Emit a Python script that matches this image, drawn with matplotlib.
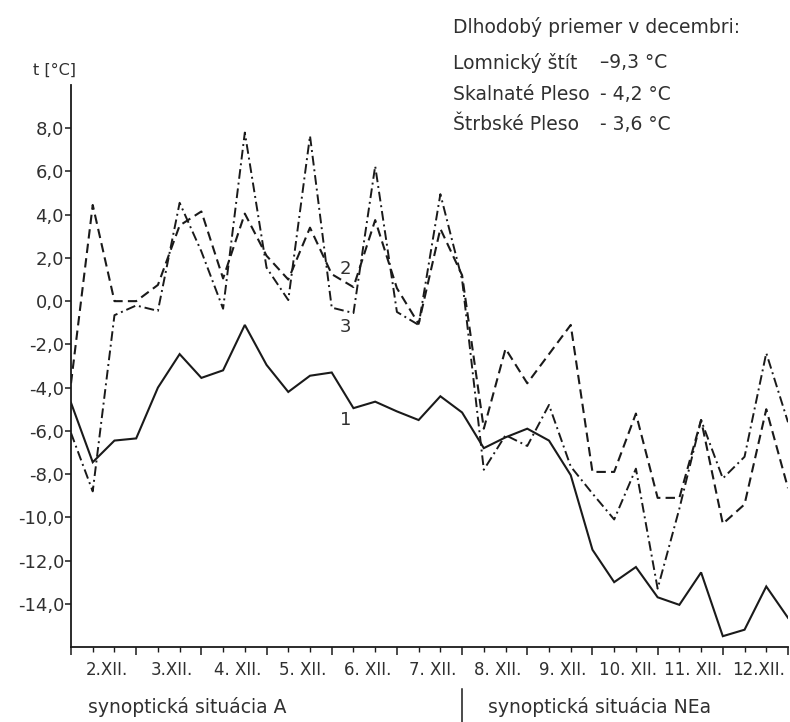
import matplotlib
matplotlib.use("Agg")
import matplotlib.pyplot as plt
from matplotlib.transforms import blended_transform_factory

plt.rcParams["font.family"] = ["DejaVu Sans"]
plt.rcParams["axes.unicode_minus"] = False

# Three observations a day (7, 14, 21 h), 1.-12. December
obs = list(range(34))

# 1 - Lomnický štít
lomnicky = [-4.7, -7.45, -6.45, -6.35, -4.0, -2.45, -3.55, -3.2, -1.1, -2.95,
            -4.2, -3.45, -3.3, -4.95, -4.65, -5.1, -5.5, -4.4, -5.15, -6.8,
            -6.3, -5.9, -6.45, -8.05, -11.5, -13.0, -12.3, -13.7, -14.05, -12.55,
            -15.5, -15.2, -13.2, -14.65]

# 2 - Skalnaté Pleso
skalnate = [-3.8, 4.45, 0.0, 0.0, 0.75, 3.5, 4.15, 1.05, 4.05, 2.1,
            1.0, 3.4, 1.25, 0.65, 3.75, 0.6, -1.05, 3.35, 1.2, -5.9,
            -2.2, -3.8, -2.45, -1.1, -7.9, -7.9, -5.2, -9.1, -9.1, -5.5,
            -10.3, -9.4, -5.0, -8.65]

# 3 - Štrbské Pleso
strbske = [-6.1, -8.8, -0.65, -0.2, -0.45, 4.55, 2.3, -0.35, 7.8, 1.55,
           0.05, 7.65, -0.3, -0.55, 6.25, -0.5, -1.1, 4.95, 1.0, -7.8,
           -6.2, -6.7, -4.8, -7.65, -8.9, -10.1, -7.75, -13.3, -9.6, -5.5,
           -8.2, -7.2, -2.4, -5.6]

day_labels = ["2.XII.", "3.XII.", "4. XII.", "5. XII.", "6. XII.", "7. XII.",
              "8. XII.", "9. XII.", "10. XII.", "11. XII.", "12.XII."]
y_ticks = [8, 6, 4, 2, 0, -2, -4, -6, -8, -10, -12, -14]

ink = "#1a1a1a"
txt = "#303030"

fig = plt.figure(figsize=(7.9, 7.22), dpi=100)
fig.patch.set_facecolor("white")
ax = fig.add_axes([71 / 790, 75 / 722, 717 / 790, 562 / 722])

ax.plot(obs, lomnicky, color=ink, lw=1.5, linestyle="-", solid_joinstyle="miter")
ax.plot(obs, skalnate, color=ink, lw=1.5, linestyle=(0, (4.5, 2.5)))
ax.plot(obs, strbske, color=ink, lw=1.4, linestyle=(0, (5, 2, 1, 2)))

ax.set_xlim(0, 33)
ax.set_ylim(-16, 10)

for s in ("top", "right"):
    ax.spines[s].set_visible(False)
for s in ("left", "bottom"):
    ax.spines[s].set_color(ink)
    ax.spines[s].set_linewidth(1.3)

ax.set_yticks(y_ticks)
ax.set_yticklabels([f"{v:.1f}".replace(".", ",") for v in y_ticks])
ax.tick_params(axis="y", direction="out", length=4, width=1.1, pad=1,
               labelsize=13, colors=ink, labelcolor=txt)

ax.set_xticks(range(0, 34, 3))
ax.set_xticks([i for i in obs if i % 3], minor=True)
ax.set_xticklabels([])
ax.tick_params(axis="x", which="major", direction="out", length=6, width=1.1, colors=ink)
ax.tick_params(axis="x", which="minor", direction="out", length=3.5, width=1.0, colors=ink)

trans = blended_transform_factory(ax.transData, ax.transAxes)
for k, lab in enumerate(day_labels):
    ax.text(3 * k + 1.65, -0.041, lab, transform=trans, ha="center", va="center",
            fontsize=12, color=txt)

# synoptic situations below the axis
ax.text(0.8, -0.107, "synoptická situácia A", transform=trans, ha="left",
        va="center", fontsize=13.5, color=txt)
ax.text(19.2, -0.107, "synoptická situácia NEa", transform=trans, ha="left",
        va="center", fontsize=13.5, color=txt)
ax.plot([18, 18], [-0.075, -0.14], transform=trans, color=ink, lw=1.1, clip_on=False)

# curve numbers
ax.text(12.65, 1.5, "2", ha="center", va="center", fontsize=13, color=txt)
ax.text(12.65, -1.2, "3", ha="center", va="center", fontsize=13, color=txt)
ax.text(12.65, -5.5, "1", ha="center", va="center", fontsize=13, color=txt)

# axis title
fig.text(33 / 790, 1 - 70 / 722, "t [°C]", ha="left", va="center", fontsize=11.5, color=txt)

# long-term December means
fs = 13.5
fig.text(453 / 790, 1 - 27 / 722, "Dlhodobý priemer v decembri:", ha="left",
         va="center", fontsize=fs, color=txt)
rows = [("Lomnický štít", "–9,3 °C", 63),
        ("Skalnaté Pleso", "- 4,2 °C", 95),
        ("Štrbské Pleso", "- 3,6 °C", 125)]
for name, val, ypix in rows:
    fig.text(453 / 790, 1 - ypix / 722, name, ha="left", va="center", fontsize=fs, color=txt)
    fig.text(600 / 790, 1 - ypix / 722, val, ha="left", va="center", fontsize=fs, color=txt)

fig.savefig("out.png", dpi=100, facecolor="white")
